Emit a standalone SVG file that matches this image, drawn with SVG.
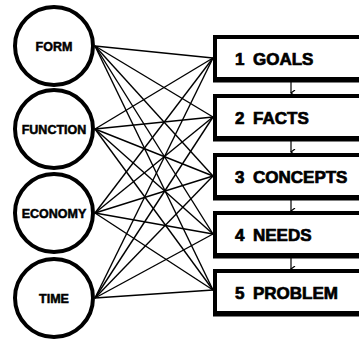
<svg xmlns="http://www.w3.org/2000/svg" width="359" height="341" viewBox="0 0 359 341">
<style>
.c{fill:#fff;stroke:#000;stroke-width:4}
.ct{font-family:"Liberation Sans",Arial,sans-serif;font-weight:bold;font-size:12.5px;text-anchor:middle;fill:#000;stroke:#000;stroke-width:0.5}
.b{fill:#fff;stroke:#000;stroke-width:4}
.bs{stroke:#000;stroke-width:3}
.bt{font-family:"Liberation Sans",Arial,sans-serif;font-weight:bold;font-size:17px;fill:#000;stroke:#000;stroke-width:0.7}
.l{stroke:#000;stroke-width:1.4;fill:none}
.a{stroke:#000;stroke-width:1.2;fill:none}
</style>
<defs>
<marker id="ah" markerWidth="6" markerHeight="6" refX="3" refY="5" orient="auto" markerUnits="userSpaceOnUse">
<path d="M0,1 L3,5 L6,1" fill="none" stroke="#000" stroke-width="1.2"/>
</marker>
</defs>
<rect width="359" height="341" fill="#fff"/>
<g id="connectors">
<line class="l" x1="95" y1="46" x2="213" y2="58"/>
<line class="l" x1="95" y1="46" x2="213" y2="117"/>
<line class="l" x1="95" y1="46" x2="213" y2="176"/>
<line class="l" x1="95" y1="46" x2="213" y2="234"/>
<line class="l" x1="95" y1="46" x2="213" y2="290"/>
<line class="l" x1="95" y1="129" x2="213" y2="58"/>
<line class="l" x1="95" y1="129" x2="213" y2="117"/>
<line class="l" x1="95" y1="129" x2="213" y2="176"/>
<line class="l" x1="95" y1="129" x2="213" y2="234"/>
<line class="l" x1="95" y1="129" x2="213" y2="290"/>
<line class="l" x1="95" y1="213" x2="213" y2="58"/>
<line class="l" x1="95" y1="213" x2="213" y2="117"/>
<line class="l" x1="95" y1="213" x2="213" y2="176"/>
<line class="l" x1="95" y1="213" x2="213" y2="234"/>
<line class="l" x1="95" y1="213" x2="213" y2="290"/>
<line class="l" x1="95" y1="298" x2="213" y2="58"/>
<line class="l" x1="95" y1="298" x2="213" y2="117"/>
<line class="l" x1="95" y1="298" x2="213" y2="176"/>
<line class="l" x1="95" y1="298" x2="213" y2="234"/>
<line class="l" x1="95" y1="298" x2="213" y2="290"/>
<line class="a" x1="291" y1="82" x2="291" y2="93" marker-end="url(#ah)"/>
<line class="a" x1="291" y1="141" x2="291" y2="152" marker-end="url(#ah)"/>
<line class="a" x1="291" y1="200" x2="291" y2="211" marker-end="url(#ah)"/>
<line class="a" x1="291" y1="258" x2="291" y2="269" marker-end="url(#ah)"/>
</g>
<g id="form"><circle class="c" cx="54" cy="46" r="39"/><text class="ct" x="54" y="50.5">FORM</text></g>
<g id="function"><circle class="c" cx="54" cy="129" r="39"/><text class="ct" x="54" y="133.5">FUNCTION</text></g>
<g id="economy"><circle class="c" cx="54" cy="213" r="39"/><text class="ct" x="54" y="217.5">ECONOMY</text></g>
<g id="time"><circle class="c" cx="54" cy="298" r="39"/><text class="ct" x="54" y="302.5">TIME</text></g>
<g id="goals"><rect class="b" x="215" y="37" width="170" height="42"/><line class="bs" x1="213" y1="81" x2="385" y2="81"/><text class="bt" x="235" y="65">1 <tspan x="253">GOALS</tspan></text></g>
<g id="facts"><rect class="b" x="215" y="96" width="170" height="42"/><line class="bs" x1="213" y1="140" x2="385" y2="140"/><text class="bt" x="235" y="124">2 <tspan x="253">FACTS</tspan></text></g>
<g id="concepts"><rect class="b" x="215" y="155" width="170" height="42"/><line class="bs" x1="213" y1="199" x2="385" y2="199"/><text class="bt" x="235" y="183">3 <tspan x="253">CONCEPTS</tspan></text></g>
<g id="needs"><rect class="b" x="215" y="213" width="170" height="42"/><line class="bs" x1="213" y1="257" x2="385" y2="257"/><text class="bt" x="235" y="241">4 <tspan x="253">NEEDS</tspan></text></g>
<g id="problem"><rect class="b" x="215" y="271" width="170" height="42"/><line class="bs" x1="213" y1="315" x2="385" y2="315"/><text class="bt" x="235" y="299">5 <tspan x="253">PROBLEM</tspan></text></g>
</svg>
